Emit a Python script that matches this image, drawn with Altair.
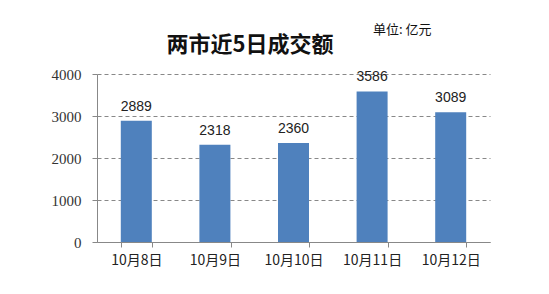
import altair as alt
import pandas as pd

# Turnover of the two exchanges over the last five trading days (亿元)
dates = ["10月8日", "10月9日", "10月10日", "10月11日", "10月12日"]
turnover = [2889, 2318, 2360, 3586, 3089]
y_ticks = [0, 1000, 2000, 3000, 4000]

df = pd.DataFrame({"date": dates, "value": turnover})

CJK = "Noto Sans CJK SC"
BAR = "#4F81BD"

x_enc = alt.X(
    "date:N",
    sort=dates,
    title=None,
    scale=alt.Scale(paddingInner=0.6, paddingOuter=0.3),
    axis=alt.Axis(
        labelAngle=0,
        labelFont=CJK,
        labelFontSize=14,
        labelColor="#222222",
        labelPadding=6,
        tickBand="extent",
        tickSize=5,
        tickColor="#888888",
        domainColor="#888888",
        grid=False,
    ),
)

y_enc = alt.Y(
    "value:Q",
    title=None,
    scale=alt.Scale(domain=[0, 4000], nice=False),
    axis=alt.Axis(
        values=y_ticks,
        format="d",
        labelFont="Liberation Serif",
        labelFontSize=15,
        labelColor="#333333",
        labelPadding=11,
        tickSize=5,
        tickColor="#888888",
        domainColor="#888888",
        gridColor="#888888",
        gridDash=[4, 3],
        gridWidth=1,
    ),
)

base = alt.Chart(df)

bars = base.mark_bar(color=BAR, size=31).encode(x=x_enc, y=y_enc)

labels = base.mark_text(
    baseline="bottom", dy=-7, font="Liberation Sans", fontSize=14, color="#222222"
).encode(x=alt.X("date:N", sort=dates), y="value:Q", text="value:Q")

title = alt.Chart(pd.DataFrame({"t": ["两市近5日成交额"]})).mark_text(
    font=CJK, fontSize=22, fontWeight="bold", color="#111111",
    align="center", baseline="middle",
).encode(x=alt.value(153), y=alt.value(-29), text="t:N")

unit = alt.Chart(pd.DataFrame({"t": ["单位: 亿元"]})).mark_text(
    font=CJK, fontSize=13, color="#111111", align="left", baseline="middle",
).encode(x=alt.value(276), y=alt.value(-44), text="t:N")

chart = (
    alt.layer(bars, labels, title, unit)
    .properties(
        width=393,
        height=168,
        autosize=alt.AutoSizeParams(type="none"),
        padding={"left": 97, "top": 74, "right": 59, "bottom": 52},
        background="white",
    )
    .configure_view(stroke=None)
)

chart.save("out.html", embed_options={"renderer": "svg", "actions": False})
